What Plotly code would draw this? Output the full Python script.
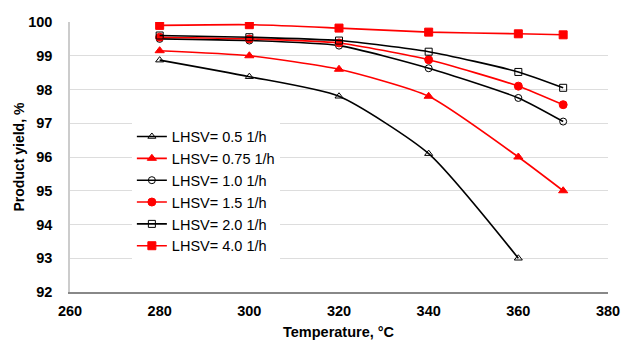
import plotly.graph_objects as go

temps_a = [280, 300, 320, 340, 360]
temps_b = [280, 300, 320, 340, 360, 370]

names = ["LHSV= 0.5 1/h", "LHSV= 0.75 1/h", "LHSV= 1.0 1/h",
         "LHSV= 1.5 1/h", "LHSV= 2.0 1/h", "LHSV= 4.0 1/h"]
lhsv_05 = [98.87, 98.38, 97.8, 96.1, 93.0]
lhsv_075 = [99.15, 99.0, 98.6, 97.8, 96.0, 95.0]
lhsv_10 = [99.5, 99.45, 99.3, 98.63, 97.75, 97.05]
lhsv_15 = [99.55, 99.5, 99.38, 98.88, 98.1, 97.55]
lhsv_20 = [99.6, 99.55, 99.45, 99.12, 98.52, 98.05]
lhsv_40 = [99.9, 99.92, 99.82, 99.7, 99.65, 99.62]

x_title = "Temperature, °C"
y_title = "Product yield, %"

series = [
    (names[0], temps_a, lhsv_05, "black", "triangle-up-open", 7),
    (names[1], temps_b, lhsv_075, "red", "triangle-up", 8),
    (names[2], temps_b, lhsv_10, "black", "circle-open", 7),
    (names[3], temps_b, lhsv_15, "red", "circle", 8),
    (names[4], temps_b, lhsv_20, "black", "square-open", 7),
    (names[5], temps_b, lhsv_40, "red", "square", 8),
]

fig = go.Figure()
for name, xs, ys, col, sym, sz in series:
    fig.add_trace(go.Scatter(
        x=xs, y=ys, name=name, mode="lines+markers",
        line=dict(color=col, width=1.6, shape="spline", smoothing=0.6),
        marker=dict(symbol=sym, size=sz, color=col,
                    line=dict(color=col, width=1)),
    ))

fig.update_layout(
    width=622, height=341,
    margin=dict(l=70, r=14, t=22, b=49),
    paper_bgcolor="white", plot_bgcolor="white",
    font=dict(family="Liberation Sans, Arial", color="black", size=13),
    showlegend=True,
    legend=dict(x=0.115, y=0.635, xanchor="left", yanchor="top",
                bgcolor="white", font=dict(size=14.5),
                itemwidth=30, tracegroupgap=0),
    annotations=[
        dict(text="<b>" + x_title + "</b>", xref="paper", yref="paper",
             x=0.5, y=-0.148, xanchor="center", yanchor="middle",
             showarrow=False, font=dict(size=14.5)),
        dict(text="<b>" + y_title + "</b>", xref="paper", yref="paper",
             x=-0.0957, y=0.5, xanchor="center", yanchor="middle",
             textangle=-90, showarrow=False, font=dict(size=14)),
    ],
)
fig.update_xaxes(
    range=[260, 380], dtick=20, showgrid=False, automargin=False,
    showline=True, linecolor="#888888", linewidth=1.5,
    ticks="outside", ticklen=5, tickcolor="rgba(0,0,0,0)",
    tickfont=dict(size=14.5), tickprefix="<b>", ticksuffix="</b>",
)
fig.update_yaxes(
    range=[92, 100], dtick=1, showgrid=True, gridcolor="#dddddd",
    automargin=False,
    showline=True, linecolor="#cccccc", linewidth=1.5, zeroline=False,
    ticks="outside", ticklen=13, tickcolor="rgba(0,0,0,0)",
    tickfont=dict(size=14.5), tickprefix="<b>", ticksuffix="</b>",
)

fig.write_html(
    "out.html",
    config={"displayModeBar": False},
    post_script="document.body.style.margin='0';document.body.style.overflow='hidden';",
)
